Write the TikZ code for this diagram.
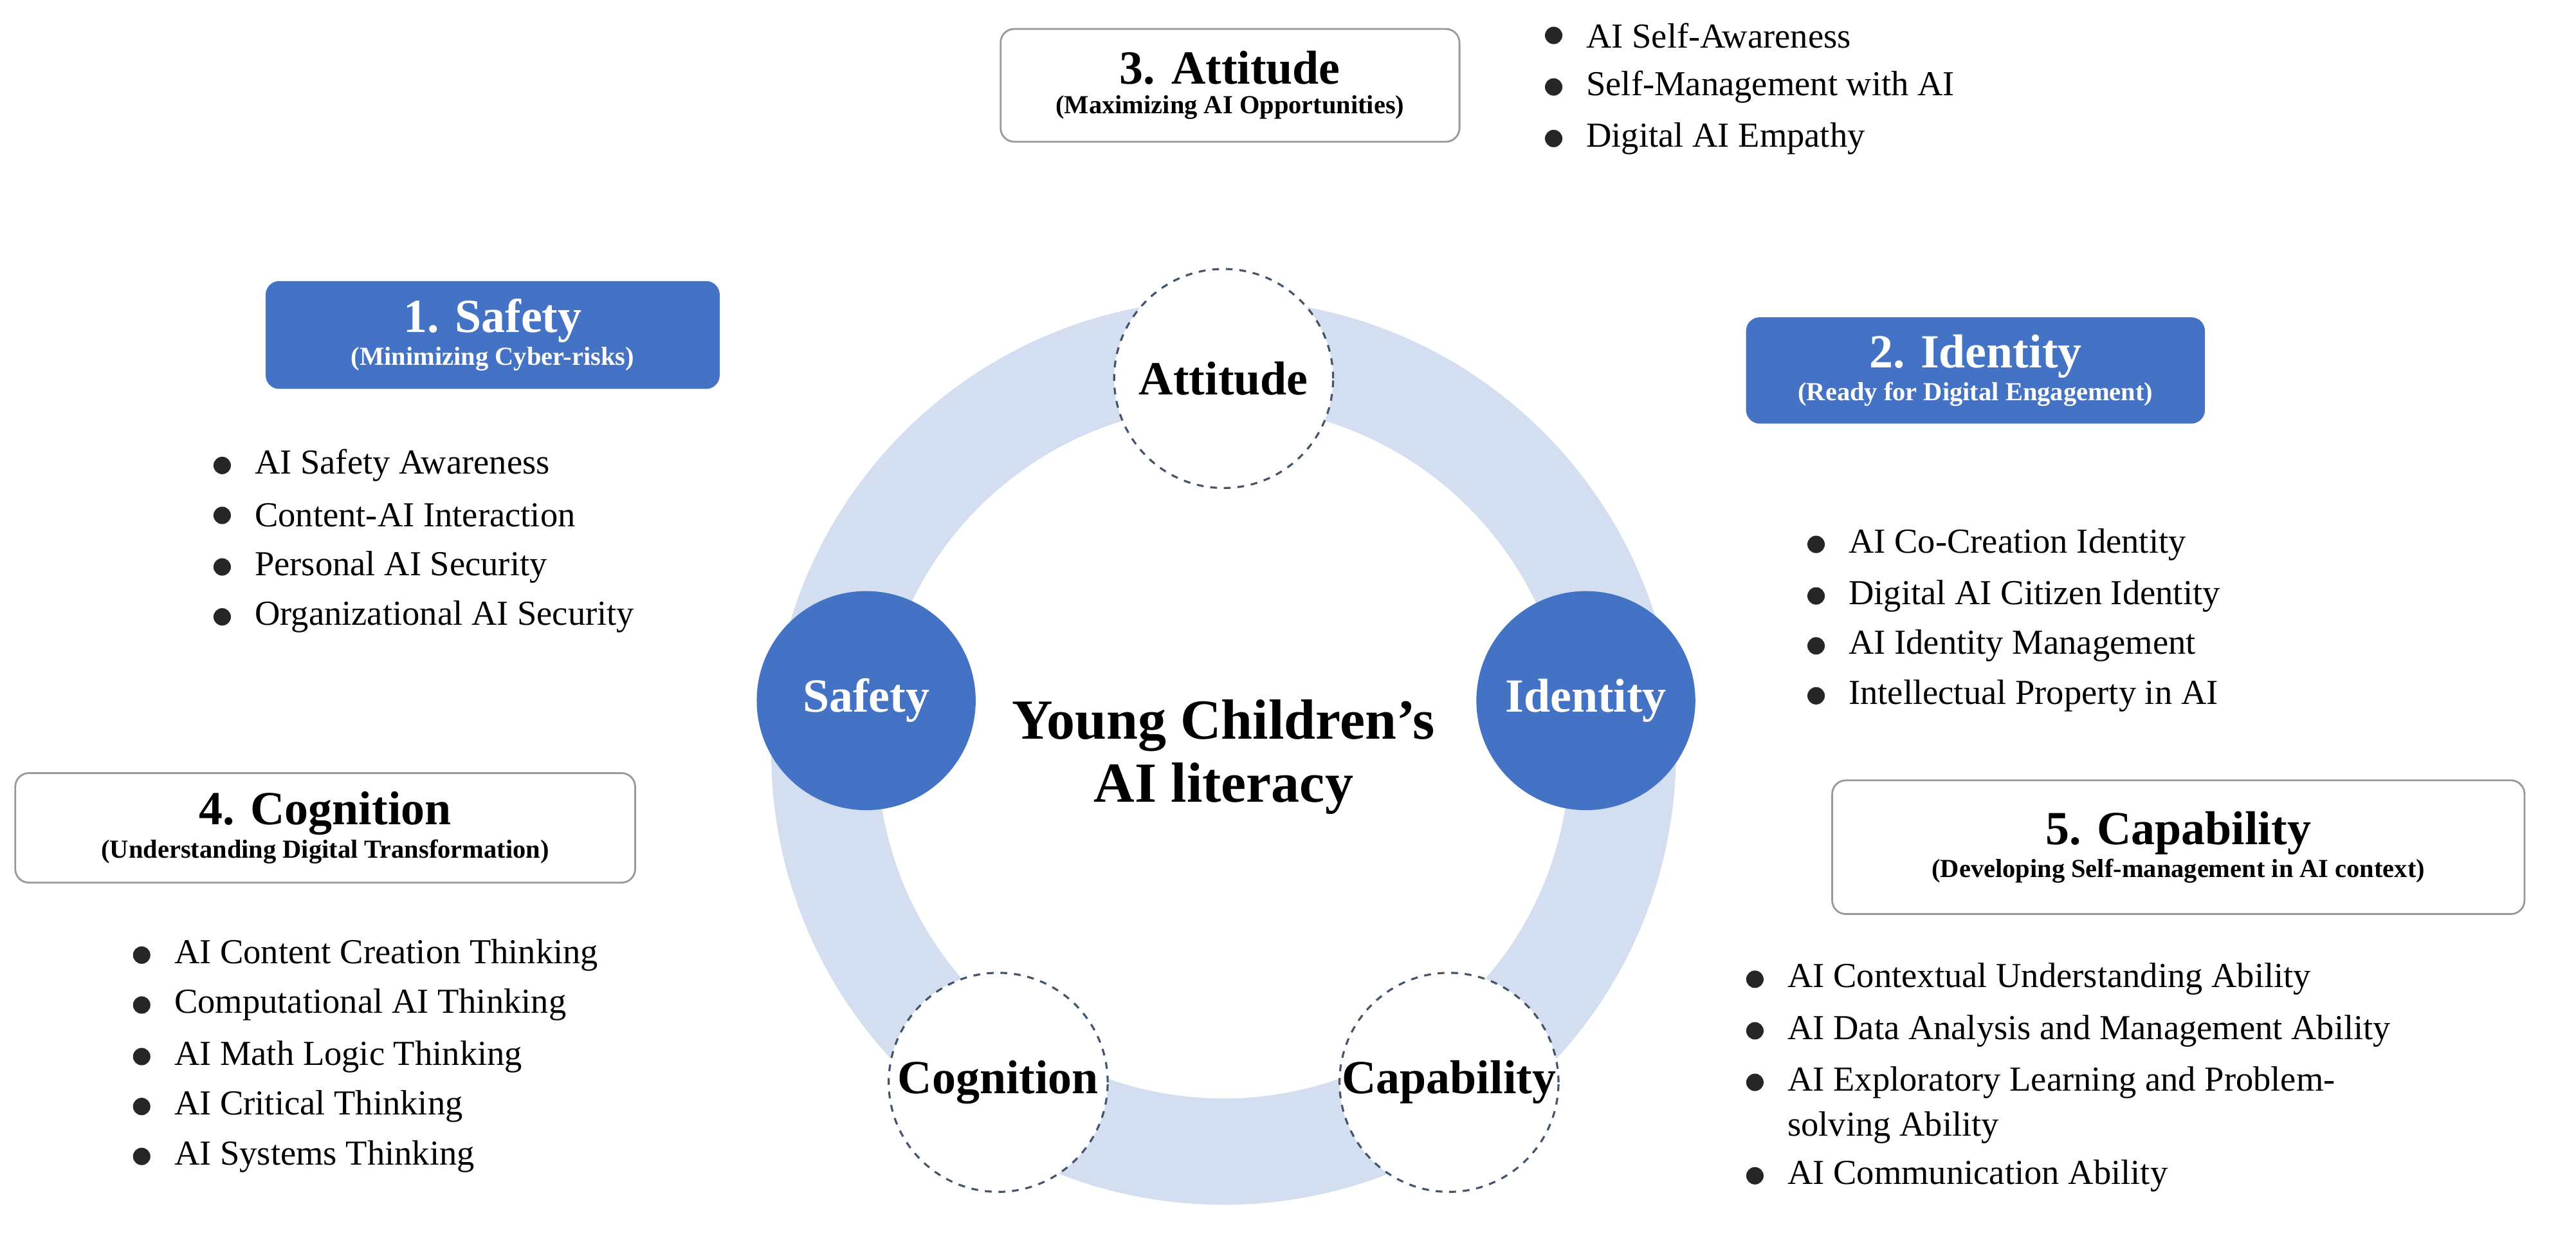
\documentclass[tikz,border=0pt]{standalone}
\usepackage{fontspec}
\setmainfont{Liberation Serif}
\definecolor{ringc}{HTML}{D3DEF0}
\definecolor{blu}{HTML}{4472C4}
\definecolor{edge}{HTML}{44546A}
\begin{document}
\begin{tikzpicture}[x=0.025cm,y=-0.025cm,
  hbox/.style={rounded corners=6pt,line width=0.8pt,align=center,inner sep=0pt},
  wbox/.style={hbox,draw=gray!80,fill=white,text=black},
  bbox/.style={hbox,fill=blu,text=white},
  sm/.style={circle,minimum size=136*0.025cm,inner sep=0pt,font=\fontsize{21}{24}\selectfont\bfseries},
  dsm/.style={sm,draw=edge,dashed,line width=0.9pt,fill=white},
  fsm/.style={sm,fill=blu,text=white},
  itm/.style={anchor=west,inner sep=0pt,font=\fontsize{15.5}{18}\selectfont},
  dot/.style={circle,fill=black!85,inner sep=0pt,minimum size=0.27cm}]
\useasboundingbox (0,0) rectangle (1600,774);
\fill[white] (0,0) rectangle (1600,774);
% ring
\draw[ringc,line width=66*0.025cm] (760,467) circle (248);
\node[dsm] (att) at (760,235) {Attitude};
\node[fsm] (saf) at (538,435) {Safety};
\node[fsm] (ide) at (985,435) {Identity};
\node[dsm] (cog) at (620,672) {Cognition};
\node[dsm] (cap) at (900,672) {Capability};
\node[align=center,font=\fontsize{25}{28}\selectfont\bfseries] (ctr) at (760,470) {Young Children’s\\AI literacy};
% boxes
\newcommand{\ttl}[2]{{\fontsize{21}{23}\selectfont\bfseries #1}\\[1pt]{\fontsize{11.5}{13}\selectfont\bfseries #2}}
\node[wbox,minimum width=285*0.025cm,minimum height=70*0.025cm] (b3) at (764,53) {\ttl{3. Attitude}{(Maximizing AI Opportunities)}};
\node[bbox,minimum width=282*0.025cm,minimum height=67*0.025cm] (b1) at (306,208) {\ttl{1. Safety}{(Minimizing Cyber-risks)}};
\node[bbox,minimum width=285*0.025cm,minimum height=66*0.025cm] (b2) at (1227,230) {\ttl{2. Identity}{(Ready for Digital Engagement)}};
\node[wbox,minimum width=385*0.025cm,minimum height=68*0.025cm] (b4) at (202,514) {\ttl{4. Cognition}{(Understanding Digital Transformation)}};
\node[wbox,minimum width=430*0.025cm,minimum height=83*0.025cm] (b5) at (1353,526) {\ttl{5. Capability}{(Developing Self-management in AI context)}};
% bullets
\newcommand{\blt}[4]{\node[dot] (#1d) at (#2,#3) {}; \node[itm] (#1) at (#2+20,#3) {#4};}
\blt{a1}{965}{22}{AI Self-Awareness}
\blt{a2}{965}{54}{Self-Management with AI}
\blt{a3}{965}{86}{Digital AI Empathy}
\blt{s1}{138}{289}{AI Safety Awareness}
\blt{s2}{138}{320}{Content-AI Interaction}
\blt{s3}{138}{352}{Personal AI Security}
\blt{s4}{138}{383}{Organizational AI Security}
\blt{i1}{1128}{338}{AI Co-Creation Identity}
\blt{i2}{1128}{370}{Digital AI Citizen Identity}
\blt{i3}{1128}{401}{AI Identity Management}
\blt{i4}{1128}{432}{Intellectual Property in AI}
\blt{c1}{88}{593}{AI Content Creation Thinking}
\blt{c2}{88}{624}{Computational AI Thinking}
\blt{c3}{88}{656}{AI Math Logic Thinking}
\blt{c4}{88}{687}{AI Critical Thinking}
\blt{c5}{88}{718}{AI Systems Thinking}
\blt{p1}{1090}{608}{AI Contextual Understanding Ability}
\blt{p2}{1090}{640}{AI Data Analysis and Management Ability}
\blt{p3}{1090}{672}{AI Exploratory Learning and Problem-}
\node[itm] (p3b) at (1110,700) {solving Ability};
\blt{p4}{1090}{730}{AI Communication Ability}
\end{tikzpicture}
\end{document}
